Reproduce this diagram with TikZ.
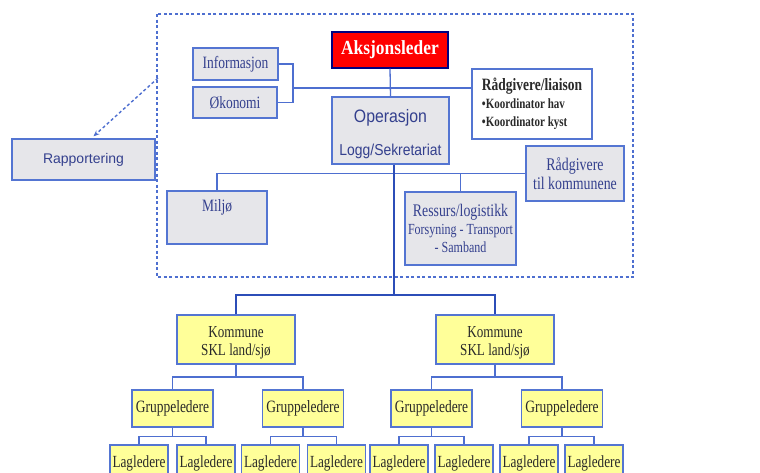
\documentclass[tikz,border=0pt]{standalone}
\usepackage{fontspec}
\setmainfont[FakeStretch=0.78]{Liberation Serif}
\newfontfamily\serifw[FakeStretch=0.87]{Liberation Serif}
\newfontfamily\arialc[FakeStretch=0.88]{Liberation Sans}
\newfontfamily\arialf{Liberation Sans}
\usetikzlibrary{arrows.meta}
\definecolor{bordc}{HTML}{5475D2}
\definecolor{linec}{HTML}{4E6FD0}
\definecolor{darkln}{HTML}{2C4DB8}
\definecolor{grayf}{HTML}{E6E6EA}
\definecolor{yelf}{HTML}{FFFF99}
\definecolor{txtb}{HTML}{34408E}
\definecolor{txtd}{HTML}{2A2A2A}
\tikzset{
  box/.style={draw=bordc, line width=1.4pt, inner sep=1pt, align=center},
  graybox/.style={box, fill=grayf, text=txtb},
  yelbox/.style={box, fill=yelf, text=txtd},
  conn/.style={draw=linec, line width=1.3pt},
  mainconn/.style={draw=darkln, line width=2pt},
  sz/.style={font=\fontsize{17.3}{18}\selectfont},
}
\begin{document}
\begin{tikzpicture}[x=1pt,y=-1pt]
\clip (0,0) rectangle (760,472);
\useasboundingbox (0,0) rectangle (760,472);
\fill[white] (0,0) rectangle (760,472);

% dashed frame
\draw[draw=linec, line width=1.4pt, dash pattern=on 3pt off 2.5pt] (157,14) rectangle (633,277);

% top nodes
\node[box, fill=red, draw=blue!50!black, text=white, minimum width=116pt, minimum height=36pt,
      font=\serifw\fontsize{20}{22}\bfseries\selectfont] (aks) at (390,50) {Aksjonsleder};
\node[graybox, sz, minimum width=85pt, minimum height=32pt] (info) at (235.5,64) {Informasjon};
\node[graybox, sz, minimum width=84pt, minimum height=31pt] (oko) at (235,102.5) {Økonomi};
\node[graybox, minimum width=117pt, minimum height=67pt,
      label={[align=center, text=txtb, font=\arialc\fontsize{15.8}{33}\selectfont, yshift=-4pt]center:{\fontsize{18}{19}\selectfont Operasjon}\\Logg/Sekretariat}]
  (ops) at (390.5,130.5) {};
\node[box, fill=white, text=txtd, minimum width=120pt, minimum height=70pt, align=left,
      font=\bfseries\fontsize{14.1}{18}\selectfont] (radl) at (532,104)
  {{\fontsize{17.3}{19}\selectfont Rådgivere/liaison}\\
   •Koordinator hav\\
   •Koordinator kyst};
\node[graybox, font=\fontsize{17.8}{19}\selectfont, minimum width=98pt, minimum height=55pt] (radk) at (575,173.5)
  {Rådgivere\\til kommunene};
\node[graybox, minimum width=100pt, minimum height=53pt,
      label={[sz, text=txtb, anchor=north, yshift=-6pt]north:Miljø}] (milj) at (217,217.5) {};
\node[graybox, minimum width=111pt, minimum height=73pt, font=\fontsize{15.4}{18}\selectfont] (ress) at (460.5,228.5)
  {{\fontsize{17.7}{18}\selectfont Ressurs/logistikk}\\
   Forsyning - Transport\\
   - Samband};
\node[graybox, minimum width=143pt, minimum height=41pt, font=\arialf\fontsize{14}{15}\selectfont]
  (rap) at (83.5,159.5) {Rapportering};

% top connectors
\coordinate (bj) at (293,88);
\draw[conn] (aks.south) -- (ops.north);
\draw[conn] (info.east) -| (bj) |- (oko.east);
\draw[conn] (bj) -- (bj -| radl.west);
\draw[conn] (milj.north) |- (radk.west);
\draw[conn] (ress.north) -- (ress.north |- radk.west);

% report arrow
\coordinate (rs) at (158,78);
\draw[draw=linec, line width=1.4pt, dash pattern=on 3pt off 2.5pt, -{Stealth[length=6pt,width=5pt]}]
  (rs) -- ([xshift=10pt,yshift=2pt]rap.north);

% bottom nodes
\foreach \n/\x in {kom1/236, kom2/495}
  \node[yelbox, minimum width=118pt, minimum height=49pt,
        label={[align=center, text=txtd, font=\fontsize{16.8}{18}\selectfont, yshift=-3pt]center:Kommune\\SKL land/sjø}]
    (\n) at (\x,339.5) {};
\foreach \n/\x in {g1/172.5, g2/303, g3/431.5, g4/562}
  \node[yelbox, sz, minimum width=81pt, minimum height=37pt] (\n) at (\x,408.5) {Gruppeledere};
\foreach \n/\x in {l1/139, l2/206, l3/270.5, l4/336.5, l5/399, l6/464, l7/529, l8/594}
  \node[yelbox, font=\fontsize{17}{18}\selectfont, minimum width=58pt, minimum height=36pt] (\n) at (\x,463) {Lagledere};

% bottom connectors
\coordinate (jc) at (394,295);
\draw[mainconn] ([xshift=3.5pt]ops.south) -- (jc);
\draw[mainconn] (kom1.north) |- (jc) -| (kom2.north);
\coordinate (k1) at (236,377);
\coordinate (k2) at (495,377);
\draw[conn] (kom1.south) -- (k1);
\draw[conn] (g1.north) |- (k1) -| (g2.north);
\draw[conn] (kom2.south) -- (k2);
\draw[conn] (g3.north) |- (k2) -| (g4.north);
\foreach \g/\a/\b in {g1/l1/l2, g2/l3/l4, g3/l5/l6, g4/l7/l8}{
  \coordinate (\g j) at ([yshift=-9pt]\g.south);
  \draw[conn] (\g.south) -- (\g j);
  \draw[conn] (\a.north) |- (\g j) -| (\b.north);
}
\end{tikzpicture}
\end{document}
